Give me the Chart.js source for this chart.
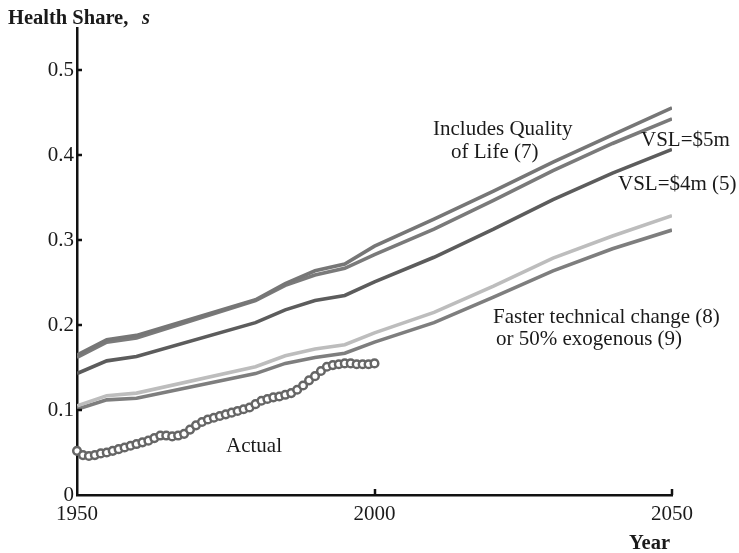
<!DOCTYPE html>
<html>
<head>
<meta charset="utf-8">
<script src="https://cdn.jsdelivr.net/npm/chart.js@4/dist/chart.umd.min.js"></script>
<style>
  body { margin: 0; background: #fff; }
</style>
</head>
<body>
<canvas id="chart" width="739" height="553"></canvas>
<script>
// projected health share, by scenario
const years         = [1950, 1955, 1960, 1980, 1985, 1990, 1995, 2000, 2010, 2020, 2030, 2040, 2050];
const qualityOfLife = [0.165, 0.183, 0.188, 0.230, 0.249, 0.264, 0.272, 0.293, 0.325, 0.358, 0.392, 0.424, 0.456];
const vsl5m         = [0.162, 0.180, 0.185, 0.229, 0.247, 0.259, 0.267, 0.283, 0.313, 0.347, 0.382, 0.414, 0.443];
const vsl4m         = [0.143, 0.158, 0.163, 0.203, 0.218, 0.229, 0.235, 0.251, 0.280, 0.313, 0.348, 0.379, 0.407];
const fasterTech    = [0.105, 0.117, 0.120, 0.151, 0.164, 0.172, 0.177, 0.191, 0.215, 0.246, 0.279, 0.305, 0.329];
const exogenous50   = [0.101, 0.112, 0.114, 0.143, 0.155, 0.162, 0.167, 0.180, 0.203, 0.233, 0.264, 0.290, 0.312];

// actual health share, yearly
const actualYears = [1950, 1951, 1952, 1953, 1954, 1955, 1956, 1957, 1958, 1959,
                     1960, 1961, 1962, 1963, 1964, 1965, 1966, 1967, 1968, 1969,
                     1970, 1971, 1972, 1973, 1974, 1975, 1976, 1977, 1978, 1979,
                     1980, 1981, 1982, 1983, 1984, 1985, 1986, 1987, 1988, 1989,
                     1990, 1991, 1992, 1993, 1994, 1995, 1996, 1997, 1998, 1999, 2000];
const actual = [0.052, 0.047, 0.046, 0.047, 0.049, 0.050, 0.052, 0.054, 0.056, 0.058,
                0.060, 0.062, 0.064, 0.067, 0.070, 0.070, 0.069, 0.070, 0.072, 0.077,
                0.082, 0.086, 0.089, 0.091, 0.093, 0.095, 0.097, 0.099, 0.101, 0.103,
                0.107, 0.111, 0.113, 0.115, 0.116, 0.118, 0.120, 0.124, 0.129, 0.135,
                0.140, 0.146, 0.151, 0.153, 0.154, 0.155, 0.155, 0.154, 0.154, 0.154, 0.155];

const xTicks = [1950, 2000, 2050];
const yTicks = [0, 0.1, 0.2, 0.3, 0.4, 0.5];

const SERIF = '"Liberation Serif", "DejaVu Serif", serif';

function pts(xs, ys) { return xs.map((x, i) => ({ x: x, y: ys[i] })); }

function line(label, data, color) {
  return { label, data: pts(years, data), borderColor: color, borderWidth: 3.6,
           pointRadius: 0, tension: 0, fill: false, borderCapStyle: 'butt' };
}

// inward tick marks, like the original
const innerTicks = {
  id: 'innerTicks',
  afterDraw(chart) {
    const { ctx, scales: { x, y }, chartArea: a } = chart;
    ctx.save();
    ctx.strokeStyle = '#111';
    ctx.lineWidth = 2.5;
    ctx.beginPath();
    yTicks.filter(v => v > 0).forEach(v => {
      const py = Math.round(y.getPixelForValue(v));
      ctx.moveTo(a.left, py); ctx.lineTo(a.left + 5, py);
    });
    xTicks.filter(v => v > 1950).forEach(v => {
      const px = Math.round(x.getPixelForValue(v));
      ctx.moveTo(px, a.bottom); ctx.lineTo(px, a.bottom - 6);
    });
    ctx.stroke();
    ctx.restore();
  }
};

const labels = {
  id: 'labels',
  afterDraw(chart) {
    const ctx = chart.ctx;
    ctx.save();
    ctx.fillStyle = '#1a1a1a';
    ctx.textBaseline = 'alphabetic';
    ctx.textAlign = 'left';
    ctx.font = 'bold 20.5px ' + SERIF;
    ctx.fillText('Health Share,', 8, 24);
    ctx.font = 'italic bold 20.5px ' + SERIF;
    ctx.fillText('s', 142, 24);
    ctx.font = 'bold 20.5px ' + SERIF;
    ctx.fillText('Year', 629, 549);

    ctx.font = '21px ' + SERIF;
    ctx.fillText('Includes Quality', 433, 135);
    ctx.fillText('of Life (7)', 451, 158);
    ctx.fillText('VSL=$5m', 641, 146);
    ctx.fillText('VSL=$4m (5)', 618, 190);
    ctx.fillText('Faster technical change (8)', 493, 323);
    ctx.fillText('or 50% exogenous (9)', 496, 345);
    ctx.fillText('Actual', 226, 452);
    ctx.restore();
  }
};

new Chart(document.getElementById('chart'), {
  type: 'line',
  data: {
    datasets: [
      line('Includes Quality of Life (7)', qualityOfLife, '#767676'),
      line('VSL=$5m', vsl5m, '#7a7a7a'),
      line('VSL=$4m (5)', vsl4m, '#5c5c5c'),
      line('Faster technical change (8)', fasterTech, '#bdbdbd'),
      line('50% exogenous (9)', exogenous50, '#7e7e7e'),
      { label: 'Actual', data: pts(actualYears, actual), showLine: false, clip: false,
        pointRadius: 3.8, pointBorderWidth: 2.5, pointBorderColor: '#666',
        pointBackgroundColor: '#fff' }
    ]
  },
  options: {
    responsive: false,
    animation: false,
    devicePixelRatio: 1,
    layout: { padding: { top: 28, right: 67, left: 0, bottom: 0 } },
    plugins: { legend: { display: false }, tooltip: { enabled: false } },
    scales: {
      x: {
        type: 'linear', min: 1950, max: 2050,
        afterBuildTicks: s => { s.ticks = xTicks.map(v => ({ value: v })); },
        afterFit: s => { s.height = 58; },
        grid: { display: false, drawTicks: false },
        border: { display: true, color: '#111', width: 2.5 },
        ticks: { color: '#1a1a1a', padding: 7, maxRotation: 0,
                 font: { family: SERIF, size: 21 }, callback: v => String(v) }
      },
      y: {
        min: 0, max: 0.55,
        afterBuildTicks: s => { s.ticks = yTicks.map(v => ({ value: v })); },
        afterFit: s => { s.width = 77; },
        grid: { display: false, drawTicks: false },
        border: { display: true, color: '#111', width: 2.5 },
        ticks: { color: '#1a1a1a', padding: 3,
                 font: { family: SERIF, size: 21 }, callback: v => String(v) }
      }
    }
  },
  plugins: [innerTicks, labels]
});
</script>
</body>
</html>
